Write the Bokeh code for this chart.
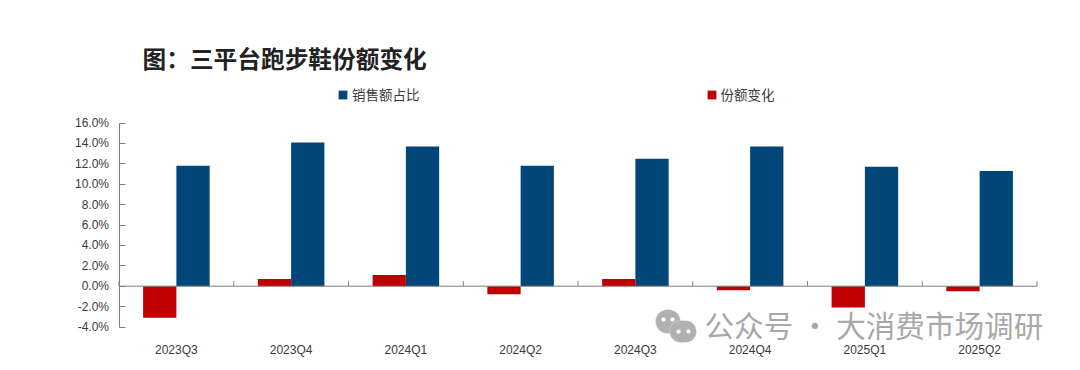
from bokeh.embed import file_html
from bokeh.resources import INLINE
from bokeh.plotting import figure
from bokeh.models import (ColumnDataSource, Range1d, LinearAxis, FixedTicker, Legend, LegendItem,
                          Label, BoxAnnotation)

quarters = ["2023Q3", "2023Q4", "2024Q1", "2024Q2", "2024Q3", "2024Q4", "2025Q1", "2025Q2"]
share = [11.8, 14.1, 13.7, 11.8, 12.5, 13.7, 11.7, 11.3]
change = [-3.1, 0.7, 1.1, -0.8, 0.7, -0.4, -2.1, -0.5]
y_ticks = [-4, -2, 0, 2, 4, 6, 8, 10, 12, 14, 16]
y_labels = [f"{v:.1f}%" for v in y_ticks]
title_text = "图：三平台跑步鞋份额变化"
watermark = "公众号 · 大消费市场调研"
series_names = ["销售额占比", "份额变化"]

BLUE, RED = "#004679", "#c00000"
AXIS, TEXT = "#7f7f7f", "#3a3a3a"
CJK = "Noto Sans CJK SC"
W = 0.29
CW, CH = 1072, 362
PLOT_L, PLOT_R, PLOT_T, PLOT_B = 118.5, 1036.5, 122.5, 326.5
n = len(quarters)
ppx = (PLOT_R - PLOT_L) / n
ppy = (PLOT_B - PLOT_T) / (y_ticks[-1] - y_ticks[0])

centers = [i + 0.5 for i in range(n)]
src = ColumnDataSource(dict(
    red_x=[c - W / 2 for c in centers], blue_x=[c + W / 2 for c in centers],
    share=share, change=change))

# The frame fills the canvas, so annotations outside the plot area are not clipped.
p = figure(width=CW, height=CH, output_backend="svg", toolbar_location=None,
           x_range=Range1d(-PLOT_L / ppx, (CW - PLOT_L) / ppx),
           y_range=Range1d(y_ticks[0] - (CH - PLOT_B) / ppy, y_ticks[-1] + PLOT_T / ppy),
           x_axis_location=None, y_axis_location=None,
           min_border=0, min_border_left=0, min_border_right=0, min_border_top=0, min_border_bottom=0)
p.grid.visible = False
p.outline_line_color = None

r_red = p.vbar(x="red_x", top="change", bottom=0, width=W, fill_color=RED, line_color=None, source=src)
r_blue = p.vbar(x="blue_x", top="share", bottom=0, width=W, fill_color=BLUE, line_color=None, source=src)

# zero line and boundary ticks
p.segment(x0=[0], x1=[n], y0=[0], y1=[0], line_color=AXIS, line_width=1)
p.segment(x0=list(range(n + 1)), x1=list(range(n + 1)), y0=[0] * (n + 1), y1=[5 / ppy] * (n + 1),
          line_color=AXIS, line_width=1)

# y axis
ya = LinearAxis(fixed_location=0, bounds=(y_ticks[0], y_ticks[-1]), ticker=FixedTicker(ticks=y_ticks),
                major_label_overrides={t: l for t, l in zip(y_ticks, y_labels)})
ya.axis_line_color = AXIS
ya.major_tick_line_color = AXIS
ya.major_tick_in = 6
ya.major_tick_out = 0
ya.minor_tick_line_color = None
ya.major_label_standoff = 10
ya.major_label_text_font = "Liberation Sans"
ya.major_label_text_font_size = "12px"
ya.major_label_text_color = TEXT
p.add_layout(ya, "left")

# category labels
xa = LinearAxis(fixed_location=y_ticks[0], ticker=FixedTicker(ticks=centers),
                major_label_overrides={c: q for c, q in zip(centers, quarters)})
xa.axis_line_color = None
xa.major_tick_line_color = None
xa.minor_tick_line_color = None
xa.major_label_standoff = 10
xa.major_label_text_font = "Liberation Sans"
xa.major_label_text_font_size = "12px"
xa.major_label_text_color = TEXT
p.add_layout(xa, "below")

legend = Legend(items=[LegendItem(label=series_names[0], renderers=[r_blue]),
                       LegendItem(label=series_names[1], renderers=[r_red])],
                orientation="horizontal", location=(337, CH - 104), spacing=286,
                glyph_width=11, glyph_height=11, label_standoff=4, padding=0, margin=0,
                border_line_color=None, background_fill_alpha=0,
                label_text_font=CJK, label_text_font_size="13.5px", label_text_color=TEXT)
p.add_layout(legend, "center")

p.add_layout(Label(x=142, y=CH - 57, x_units="screen", y_units="screen", text=title_text,
                   text_font=CJK, text_font_size="23.7px", text_font_style="bold",
                   text_color="#222222", text_baseline="middle"))

# watermark
p.add_layout(Label(x=704, y=CH - 324, x_units="screen", y_units="screen", text=watermark,
                   text_font=CJK, text_font_size="29.6px", text_color="#a8a8a8",
                   text_baseline="middle"))
for l, r, t, b, col, rad in [(655, 680, CH - 309, CH - 333, "#b0b0b0", 13),
                             (669, 696, CH - 320, CH - 342, "#b0b0b0", 13),
                             (661, 665, CH - 317, CH - 321, "#ffffff", 2),
                             (670, 674, CH - 317, CH - 321, "#ffffff", 2),
                             (676, 680, CH - 329, CH - 333, "#ffffff", 2),
                             (686, 690, CH - 329, CH - 333, "#ffffff", 2)]:
    p.add_layout(BoxAnnotation(left=l, right=r, top=t, bottom=b,
                               left_units="screen", right_units="screen",
                               top_units="screen", bottom_units="screen",
                               fill_color=col, fill_alpha=1, line_color="white", line_width=1,
                               border_radius=rad))

open("out.html", "w").write(file_html(p, INLINE))
